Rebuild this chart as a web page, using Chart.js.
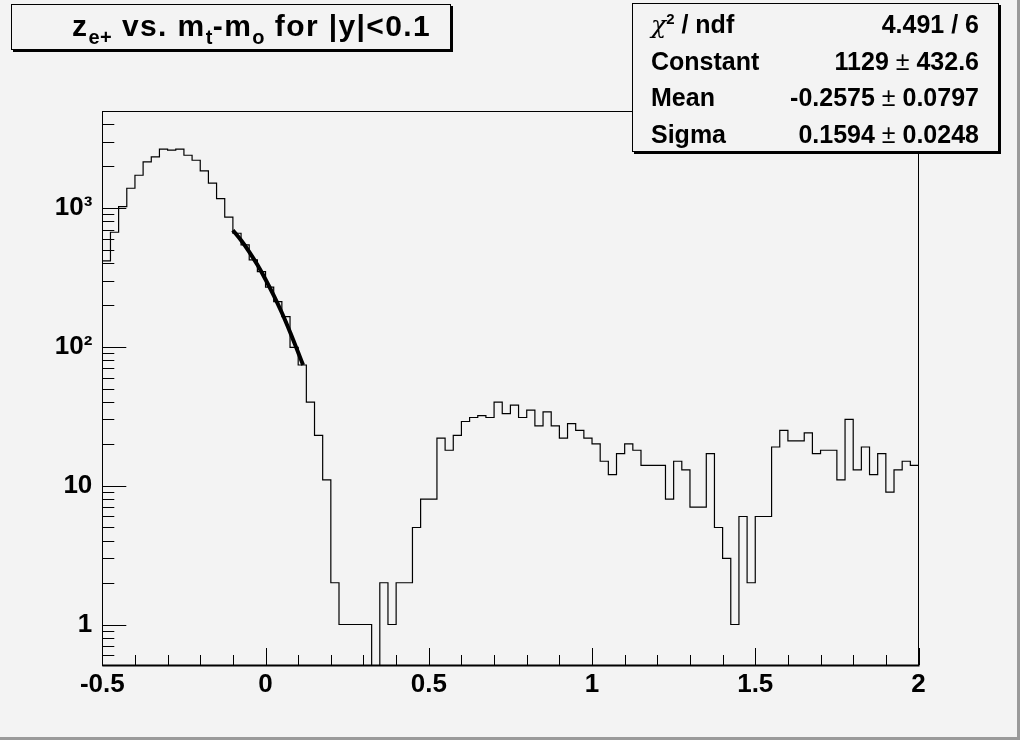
<!DOCTYPE html>
<html>
<head>
<meta charset="utf-8">
<script src="https://cdn.jsdelivr.net/npm/chart.js@4.4.1/dist/chart.umd.min.js"></script>
<style>
  body { margin: 0; background: #f3f3f3; }
  #wrap { position: relative; width: 1020px; height: 740px; background: #f3f3f3; font-family: 'Liberation Sans', Arial, sans-serif; font-weight: bold; color: #000; }
  #c { position: absolute; left: 0; top: 0; }
  #bevel { position: absolute; left: 0; top: 0; width: 1017px; height: 737px; border-right: 3px solid #9a9a9a; border-bottom: 3px solid #9a9a9a; pointer-events: none; }
  .pave { position: absolute; border: 1px solid #000; box-shadow: 2px 2px 0 #000; background: #f3f3f3; box-sizing: border-box; }
  #title { left: 11px; top: 4px; width: 440px; height: 46px; font-size: 30px; letter-spacing: 1.4px; line-height: 42px; padding-left: 60px; white-space: nowrap; }
  #title sub { font-size: 20px; vertical-align: -8px; line-height: 0; letter-spacing: 0.5px; }
  #stats { left: 632px; top: 3px; width: 367px; height: 149px; font-size: 25px; padding-top: 2px; }
  .row { display: flex; justify-content: space-between; height: 36.5px; line-height: 36px; padding: 0 19px 0 18px; white-space: nowrap; }
  .pm { font-weight: normal; }
  .chi { font-weight: normal; font-family: 'DejaVu Serif', serif; font-style: italic; }
  .row sup { font-size: 15px; vertical-align: 9px; line-height: 0; }
</style>
</head>
<body>
<div id="wrap">
  <canvas id="c" width="1020" height="740"></canvas>
  <div id="title" class="pave">z<sub>e+</sub> vs. m<sub>t</sub>-m<sub>o</sub> for |y|&lt;0.1</div>
  <div id="stats" class="pave">
    <div class="row"><span><span class="chi">χ</span><sup>2</sup> / ndf</span><span>4.491 / 6</span></div>
    <div class="row"><span>Constant</span><span>1129 <span class="pm">±</span> 432.6</span></div>
    <div class="row"><span>Mean</span><span>-0.2575 <span class="pm">±</span> 0.0797</span></div>
    <div class="row"><span>Sigma</span><span>0.1594 <span class="pm">±</span> 0.0248</span></div>
  </div>
  <div id="bevel"></div>
</div>
<script>
// histogram binning (100 bins of 0.025 from -0.5 to 2)
var xMin = -0.5;
var xMax = 2;
var counts = [
  416, 669, 1023, 1389, 1723, 2149, 2335, 2653, 2609, 2653,
  2400, 2210, 1851, 1510, 1169, 859, 658, 542, 423, 348,
  269, 212, 165, 99, 74, 40, 23, 11, 2, 1,
  1, 1, 1, 0, 2, 1, 2, 2, 5, 8,
  8, 22, 18, 23, 29, 31, 32, 31, 40, 33,
  38, 31, 35, 27, 34, 27, 22, 28, 25, 22,
  20, 15, 12, 17, 20, 18, 14, 14, 14, 8,
  15, 13, 7, 7, 17, 5, 3, 1, 6, 2,
  6, 6, 19, 25, 21, 21, 24, 17, 18, 18,
  11, 30, 13, 19, 12, 17, 9, 13, 15, 14
];

// gaussian fit curve
var fitX = [-0.1, -0.075, -0.05, -0.025, 0, 0.025, 0.05, 0.075, 0.1, 0.115];
var fitY = [693, 586, 484, 390, 306, 235, 176, 128, 91, 74];

// axes
var yMin = 0.511;
var yMax = 5000;
var xTickValues = [-0.5, 0, 0.5, 1, 1.5, 2];
var xTickLabels = ['-0.5', '0', '0.5', '1', '1.5', '2'];
var yTickValues = [1, 10, 100, 1000];
var yTickLabels = ['1', '10', '10²', '10³'];

var binWidth = (xMax - xMin) / counts.length;
// empty bins can't sit on a log axis, so drop them below the frame (clipped)
var histPoints = counts.map(function (c, i) {
  return { x: xMin + i * binWidth, y: c > 0 ? c : yMin / 2 };
});
histPoints.push({ x: xMax, y: counts[counts.length - 1] });

var fitPoints = fitX.map(function (x, i) { return { x: x, y: fitY[i] }; });

// ROOT style frame with inward ticks
var rootFrame = {
  id: 'rootFrame',
  afterDatasetsDraw: function (chart) {
    var ctx = chart.ctx, a = chart.chartArea;
    var x = chart.scales.x, y = chart.scales.y;
    ctx.save();
    ctx.strokeStyle = '#000';
    ctx.lineWidth = 1;
    ctx.beginPath();
    for (var k = 0; k <= 25; k++) {
      var v = xMin + k * 0.1;
      var px = Math.round(x.getPixelForValue(v)) + 0.5;
      var len = (k % 5 === 0) ? 17 : 10;
      ctx.moveTo(px, a.bottom);
      ctx.lineTo(px, a.bottom - len);
    }
    [0.1, 1, 10, 100, 1000].forEach(function (dec) {
      for (var m = 1; m <= 9; m++) {
        var val = m * dec;
        if (val < yMin || val > yMax) continue;
        var py = Math.round(y.getPixelForValue(val)) + 0.5;
        ctx.moveTo(a.left, py);
        ctx.lineTo(a.left + (m === 1 ? 24 : 12), py);
      }
    });
    ctx.stroke();
    ctx.strokeRect(Math.round(a.left) + 0.5, Math.round(a.top) + 0.5,
      Math.round(a.right - a.left), Math.round(a.bottom - a.top));
    ctx.lineWidth = 2;
    ctx.beginPath();
    ctx.moveTo(a.left, Math.round(a.bottom) + 0.5);
    ctx.lineTo(a.right + 1, Math.round(a.bottom) + 0.5);
    ctx.stroke();
    ctx.restore();
  }
};

var tickFont = { family: "'Liberation Sans', Arial, sans-serif", weight: 'bold', size: 26 };

new Chart(document.getElementById('c'), {
  type: 'line',
  data: {
    datasets: [{
      label: 'histogram',
      data: histPoints,
      stepped: true,
      borderColor: '#000',
      borderWidth: 1.2,
      pointRadius: 0,
      fill: false
    }, {
      label: 'fit',
      data: fitPoints,
      borderColor: '#000',
      borderWidth: 4,
      pointRadius: 0,
      cubicInterpolationMode: 'monotone',
      fill: false
    }]
  },
  options: {
    responsive: false,
    animation: false,
    devicePixelRatio: 1,
    layout: { padding: { left: 0, right: 101.5, top: 111, bottom: 0 } },
    plugins: { legend: { display: false }, tooltip: { enabled: false }, title: { display: false } },
    scales: {
      x: {
        type: 'linear',
        min: xMin,
        max: xMax,
        afterBuildTicks: function (s) { s.ticks = xTickValues.map(function (v) { return { value: v }; }); },
        afterFit: function (s) { s.height = 75; },
        ticks: {
          autoSkip: false,
          maxRotation: 0,
          padding: 4,
          color: '#000',
          font: tickFont,
          callback: function (v) { return xTickLabels[xTickValues.indexOf(v)]; }
        },
        grid: { display: false, drawTicks: false },
        border: { display: false }
      },
      y: {
        type: 'logarithmic',
        min: yMin,
        max: yMax,
        afterBuildTicks: function (s) { s.ticks = yTickValues.map(function (v) { return { value: v }; }); },
        afterFit: function (s) { s.width = 102.3; },
        ticks: {
          autoSkip: false,
          padding: 10,
          color: '#000',
          font: tickFont,
          callback: function (v) { return yTickLabels[yTickValues.indexOf(v)]; }
        },
        grid: { display: false, drawTicks: false },
        border: { display: false }
      }
    }
  },
  plugins: [rootFrame]
});
</script>
</body>
</html>
